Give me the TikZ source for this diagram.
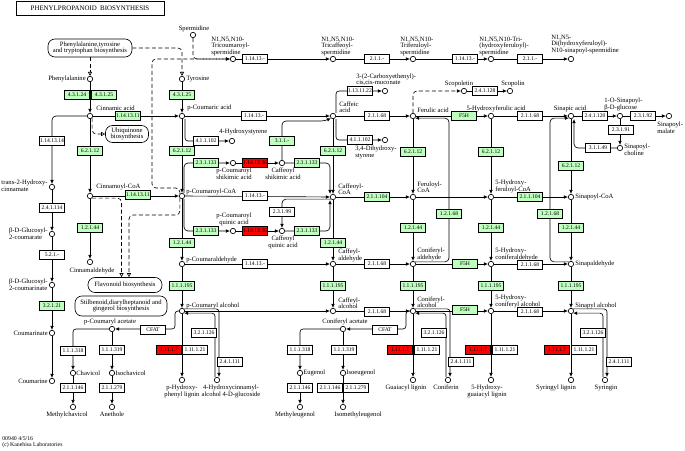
\documentclass[tikz,border=0pt]{standalone}
\usepackage{fontspec}
\setmainfont{Liberation Serif}
\usepackage{tikz}
\usetikzlibrary{arrows.meta,calc}
\definecolor{kegggreen}{RGB}{191,255,191}
\definecolor{keggred}{RGB}{255,0,0}
\newcommand\kfont{\fontsize{6.6}{6.6}\selectfont}
\newcommand\efont{\fontsize{5.6}{5.8}\selectfont}

\begin{document}
\begin{tikzpicture}[x=1pt,y=-1pt,line width=0.65pt,
  cpd/.style={circle,draw,fill=white,inner sep=0pt,minimum size=5.4pt},
  enz/.style={rectangle,draw,fill=white,inner sep=0pt,minimum width=25.5pt,minimum height=8.5pt,font=\efont},
  genz/.style={enz,fill=kegggreen},
  renz/.style={enz,fill=keggred},
  lbl/.style={inner sep=0pt,align=left,font=\kfont},
  mapbox/.style={draw,rounded corners=7pt,fill=white,align=center,inner sep=1pt,font=\kfont},
  arw/.style={-{Latex[length=4pt,width=3.6pt]}},
  oarw/.style={-{Triangle[open,length=4pt,width=4pt]}},
  dlink/.style={dash pattern=on 4pt off 2.5pt}]
\useasboundingbox (0,0) rectangle (685,450);

\node[draw,inner sep=0pt,minimum width=148pt,minimum height=14pt,font=\fontsize{6.9}{7}\selectfont] (title) at (90,8) {PHENYLPROPANOID\ \ BIOSYNTHESIS};
\node[lbl,anchor=north west,font=\fontsize{5.8}{6.2}\selectfont] (ver) at (2,436) {00940 4/5/16\\(c) Kanehisa Laboratories};

% pathway maps
\node[mapbox,minimum width=84pt,minimum height=18pt] (pttmap) at (90,48) {Phenylalanine,tyrosine\\and tryptophan biosynthesis};
\node[mapbox,minimum width=43pt,minimum height=17pt] (ubqmap) at (127,134) {Ubiquinone\\biosynthesis};
\node[mapbox,minimum width=74pt,minimum height=15pt] (flvmap) at (125,285) {Flavonoid biosynthesis};
\node[mapbox,minimum width=92pt,minimum height=20pt] (stbmap) at (121,306) {Stilbenoid,diarylheptanoid and\\gingerol biosynthesis};

% compounds
\node[cpd] (sperm) at (193,35) {};
\node[cpd] (tricou) at (233,59) {};
\node[cpd] (tricaf) at (333,59) {};
\node[cpd] (triferu) at (413,59) {};
\node[cpd] (trihf) at (491,59) {};
\node[cpd] (dihf) at (571,59) {};
\node[cpd] (phe) at (90,79) {};
\node[cpd] (tyr) at (182,79) {};
\node[cpd] (muco) at (385,91) {};
\node[cpd] (scopt) at (464,91) {};
\node[cpd] (scopn) at (510,91) {};
\node[cpd] (cinn) at (90,116) {};
\node[cpd] (pcou) at (182,116) {};
\node[cpd] (caff) at (333,116) {};
\node[cpd] (feru) at (413,116) {};
\node[cpd] (hferu) at (491,116) {};
\node[cpd] (sinap) at (571,116) {};
\node[cpd] (singlc) at (620,116) {};
\node[cpd] (sinmal) at (669,116) {};
\node[cpd] (hstyr) at (232,141) {};
\node[cpd] (dhstyr) at (385,140) {};
\node[cpd] (sinchol) at (620,148) {};
\node[cpd] (pcshik) at (233,163) {};
\node[cpd] (cfshik) at (282,163) {};
\node[cpd] (t2hc) at (52,187) {};
\node[cpd] (cincoa) at (90,196) {};
\node[cpd] (pcoa) at (182,196) {};
\node[cpd] (cfcoa) at (333,197) {};
\node[cpd] (frcoa) at (413,197) {};
\node[cpd] (hfcoa) at (491,197) {};
\node[cpd] (sncoa) at (571,197) {};
\node[cpd] (pcquin) at (233,231) {};
\node[cpd] (cfquin) at (282,231) {};
\node[cpd] (gluc2c) at (52,234) {};
\node[cpd] (cinald) at (90,262) {};
\node[cpd] (pcald) at (182,264) {};
\node[cpd] (cfald) at (333,264) {};
\node[cpd] (coald) at (413,264) {};
\node[cpd] (hcoald) at (491,264) {};
\node[cpd] (snald) at (571,264) {};
\node[cpd] (gluc2cn) at (52,285) {};
\node[cpd] (pcalc) at (182,311) {};
\node[cpd] (cfalc) at (333,311) {};
\node[cpd] (coalc) at (413,311) {};
\node[cpd] (hcoalc) at (491,311) {};
\node[cpd] (snalc) at (571,311) {};
\node[cpd] (pcac) at (112,329) {};
\node[cpd] (coac) at (343,329) {};
\node[cpd] (cmnate) at (52,333) {};
\node[cpd] (chav) at (73,373) {};
\node[cpd] (ichav) at (112,373) {};
\node[cpd] (eug) at (300,373) {};
\node[cpd] (ieug) at (343,373) {};
\node[cpd] (cmrine) at (52,381) {};
\node[cpd] (hplig) at (182,380) {};
\node[cpd] (hcgluc) at (217,380) {};
\node[cpd] (glig) at (413,380) {};
\node[cpd] (conin) at (448,380) {};
\node[cpd] (hglig) at (491,380) {};
\node[cpd] (slig) at (571,380) {};
\node[cpd] (syrin) at (605,380) {};
\node[cpd] (mchav) at (73,407) {};
\node[cpd] (aneth) at (112,407) {};
\node[cpd] (meug) at (300,407) {};
\node[cpd] (imeug) at (343,407) {};
\coordinate (fa68) at (449,0);
\coordinate (sa68) at (550,0);

% map links
\draw[dlink,oarw] (pttmap) -- (phe);
\draw[dlink,oarw,rounded corners=4pt] (pttmap.east) -| (tyr);
\draw[dlink,oarw,rounded corners=4pt] (cinn.south east) |- (ubqmap.west);
\draw[dlink,arw,rounded corners=4pt] (pcoa.north west) |- (152,188) |- (tricou);
\draw[dlink,arw,rounded corners=4pt] (sperm) |- (tricou);
\draw[dlink,oarw,rounded corners=4pt] (cincoa.south east) -| ([xshift=-3.5pt]flvmap.north);
\draw[dlink,oarw,rounded corners=4pt] (pcoa.south west) |- (129,215) -- ([xshift=4pt]flvmap.north);
\draw[dlink,arw,rounded corners=4pt] (feru.north) |- (scopt);

% reactions
\foreach \u/\v in {tricou/tricaf,tricaf/triferu,triferu/trihf,trihf/dihf,
  phe/cinn,tyr/pcou,cinn/pcou,pcou/caff,caff/feru,feru/hferu,hferu/sinap,sinap/singlc,singlc/sinmal,singlc/sinchol,
  scopt/scopn,cinn/cincoa,cincoa/cinald,pcou/pcoa,caff/cfcoa,feru/frcoa,hferu/hfcoa,sinap/sncoa,
  cincoa/pcoa,pcoa/cfcoa,cfcoa/frcoa,frcoa/hfcoa,hfcoa/sncoa,
  pcoa/pcald,cfcoa/cfald,frcoa/coald,hfcoa/hcoald,sncoa/snald,
  pcald/cfald,cfald/coald,coald/hcoald,hcoald/snald,
  pcald/pcalc,cfald/cfalc,coald/coalc,hcoald/hcoalc,snald/snalc,
  pcalc/cfalc,cfalc/coalc,coalc/hcoalc,hcoalc/snalc,
  pcalc/hplig,coalc/glig,hcoalc/hglig,snalc/slig,
  pcshik/cfshik,pcquin/cfquin,
  t2hc/gluc2c,gluc2c/gluc2cn,gluc2cn/cmnate,cmnate/cmrine,
  pcac/ichav,ichav/aneth,chav/mchav,coac/ieug,ieug/imeug,eug/meug}
  \draw[arw] (\u)--(\v);
\draw[arw,rounded corners=4pt] (cinn.west) -| (t2hc);
\draw[arw,rounded corners=3pt] ([xshift=3pt]pcou.south) |- (hstyr);
\draw[arw,rounded corners=3pt] ([xshift=3pt]caff.north) |- (muco);
\draw[arw,rounded corners=3pt] ([xshift=3pt]caff.south) |- (dhstyr);
\draw[arw,rounded corners=4pt] (cfshik.north) |- ([xshift=-8pt,yshift=-5pt]caff.center) -- (caff.south west);
\draw[arw,rounded corners=4pt] (sinchol.west) -| ([xshift=3pt]sinap.south);
\draw[arw,rounded corners=4pt] ([xshift=2pt]pcoa.north) |- (pcshik);
\draw[arw,rounded corners=4pt] (cfshik.east) -| ([xshift=-3pt]cfcoa.north);
\draw[arw,rounded corners=4pt] ([xshift=2pt]pcoa.south) |- (pcquin);
\draw[arw,rounded corners=4pt] (cfquin.east) -| ([xshift=-3pt]cfcoa.south);
\draw[arw,rounded corners=4pt] (cfcoa.south west) -| (cfquin);
\draw[arw,rounded corners=4pt] (coald.north east) -| (fa68 |- feru.south east) -- (feru.south east);
\draw[arw,rounded corners=4pt] (snald.north west) -| (sa68 |- sinap.south west) -- (sinap.south west);
\draw[arw,rounded corners=3pt] (pcalc.north east) -| ([xshift=2pt]hcgluc.north);
\draw[arw,rounded corners=3pt] ([xshift=-2pt]hcgluc.north) |- (pcalc.south east);
\draw[arw,rounded corners=3pt] (coalc.north east) -| ([xshift=2pt]conin.north);
\draw[arw,rounded corners=3pt] ([xshift=-2pt]conin.north) |- (coalc.south east);
\draw[arw,rounded corners=3pt] (snalc.north east) -| ([xshift=2pt]syrin.north);
\draw[arw,rounded corners=3pt] ([xshift=-2pt]syrin.north) |- (snalc.south east);
\draw[arw,rounded corners=3pt] (pcalc.west) -- ([xshift=-4pt]pcalc.west) |- (pcac.east);
\draw[arw,rounded corners=3pt] (coalc.west) -- ([xshift=-4pt]coalc.west) |- (coac.east);
\draw[arw,rounded corners=3pt] (pcac.west) -| (chav);
\draw[arw,rounded corners=3pt] (coac.west) -| (eug);

% enzymes
\foreach \x/\y/\t in {255/59/1.14.13.-,377/59/2.1.1.-,465/59/1.14.13.-,530/59/2.1.1.-,
  360/91/1.13.11.22,485/91/2.4.1.128,
  254/116/1.14.13.-,377/116/2.1.1.68,530/116/2.1.1.68,595/116/2.4.1.120,643/116/2.3.1.92,
  621/130/2.3.1.91,52/141/1.14.13.14,206/141/4.1.1.102,360/140/4.1.1.102,598/148/3.1.1.49,
  255/196/1.14.13.-,52/208/2.4.1.114,282/212/2.3.1.99,52/255/5.2.1.-,
  255/264/1.14.13.-,377/264/2.1.1.68,530/265/2.1.1.68,377/312/2.1.1.68,530/312/2.1.1.68,
  153/330/CFAT,385/330/CFAT,204/333/3.2.1.126,434/333/3.2.1.126,593/333/3.2.1.126,
  73/351/1.1.1.318,112/350/1.1.1.319,300/350/1.1.1.318,344/350/1.1.1.319,
  195/350/1.11.1.21,427/350/1.11.1.21,505/350/1.11.1.21,584/350/1.11.1.21,
  230/362/2.4.1.111,461/362/2.4.1.111,619/362/2.4.1.111,
  73/388/2.1.1.146,112/388/2.1.1.279,300/388/2.1.1.146,330/388/2.1.1.146,356/388/2.1.1.279}
  \node[enz] (e\x-\y) at (\x,\y) {\t};
\foreach \x/\y/\t in {77/95/4.3.1.24,104/95/4.3.1.25,182/95/4.3.1.25,
  128/116/1.14.13.11,464/116/F5H,282/141/3.1.1.-,
  90/151/6.2.1.12,182/151/6.2.1.12,333/151/6.2.1.12,413/152/6.2.1.12,491/152/6.2.1.12,571/166/6.2.1.12,
  206/163/2.3.1.133,307/163/2.3.1.133,206/231/2.3.1.133,307/231/2.3.1.133,
  138/195/1.14.13.11,377/197/2.1.1.104,530/197/2.1.1.104,449/214/1.2.1.68,550/214/1.2.1.68,
  90/228/1.2.1.44,182/243/1.2.1.44,333/243/1.2.1.44,413/228/1.2.1.44,491/228/1.2.1.44,571/228/1.2.1.44,
  465/264/F5H,465/310/F5H,
  182/286/1.1.1.195,333/286/1.1.1.195,413/286/1.1.1.195,491/286/1.1.1.195,571/286/1.1.1.195,
  52/306/3.2.1.21}
  \node[genz] (g\x-\y) at (\x,\y) {\t};
\foreach \x/\y/\t in {255/163/1.14.13.36,255/231/1.14.13.36,
  169/350/1.11.1.7,400/350/1.11.1.7,478/350/1.11.1.7,557/350/1.11.1.7}
  \node[renz] (r\x-\y) at (\x,\y) {\t};

% compound names
\node[lbl,anchor=south] (sperm-l) at (194,32) {Spermidine};
\node[lbl,anchor=south west] (tricou-l) at (211,56) {N1,N5,N10-\\Tricoumaroyl-\\spermidine};
\node[lbl,anchor=south west] (tricaf-l) at (321,56) {N1,N5,N10-\\Tricaffeoyl-\\spermidine};
\node[lbl,anchor=south west] (triferu-l) at (400,56) {N1,N5,N10-\\Triferuloyl-\\spermidine};
\node[lbl,anchor=south west] (trihf-l) at (479,56) {N1,N5,N10-Tri-\\(hydroxyferuloyl)-\\spermidine};
\node[lbl,anchor=south west] (dihf-l) at (551,54) {N1,N5-\\Di(hydroxyferuloyl)-\\N10-sinapoyl-spermidine};
\node[lbl,anchor=east] (phe-l) at (86,79) {Phenylalanine};
\node[lbl,anchor=west] (tyr-l) at (186,79) {Tyrosine};
\node[lbl,anchor=south west] (cinn-l) at (96,111) {Cinnamic acid};
\node[lbl,anchor=south west] (pcou-l) at (187,111) {p-Coumaric acid};
\node[lbl,anchor=south west] (caff-l) at (339,113) {Caffeic\\acid};
\node[lbl,anchor=south west] (feru-l) at (417,113) {Ferulic acid};
\node[lbl,anchor=south] (hferu-l) at (496,112) {5-Hydroxyferulic acid};
\node[lbl,anchor=south] (sinap-l) at (570,112) {Sinapic acid};
\node[lbl,anchor=south west] (singlc-l) at (604,111) {1-O-Sinapoyl-\\β-D-glucose};
\node[lbl,anchor=north west] (sinmal-l) at (657,122) {Sinapoyl-\\malate};
\node[lbl,anchor=west] (sinchol-l) at (624,150) {Sinapoyl-\\choline};
\node[lbl,anchor=south west] (muco-l) at (356,86) {3-(2-Carboxyethenyl)-\\cis,cis-muconate};
\node[lbl,anchor=south] (scopt-l) at (459,87) {Scopoletin};
\node[lbl,anchor=south] (scopn-l) at (513,87) {Scopolin};
\node[lbl,anchor=south west] (hstyr-l) at (219,135) {4-Hydroxystyrene};
\node[lbl,anchor=north west] (dhstyr-l) at (355,146) {3,4-Dihydroxy-\\styrene};
\node[lbl,anchor=east] (t2hc-l) at (48,186) {trans-2-Hydroxy-\\cinnamate};
\node[lbl,anchor=east] (gluc2c-l) at (48,234) {β-D-Glucosyl-\\2-coumarate};
\node[lbl,anchor=east] (gluc2cn-l) at (48,285) {β-D-Glucosyl-\\2-coumarinate};
\node[lbl,anchor=east] (cmnate-l) at (48,333) {Coumarinate};
\node[lbl,anchor=east] (cmrine-l) at (48,381) {Coumarine};
\node[lbl,anchor=south west] (cincoa-l) at (96,190) {Cinnamoyl-CoA};
\node[lbl,anchor=south west] (pcoa-l) at (186,195) {p-Coumaroyl-CoA};
\node[lbl,anchor=south west] (cfcoa-l) at (338,195) {Caffeoyl-\\CoA};
\node[lbl,anchor=south west] (frcoa-l) at (417,193) {Feruloyl-\\CoA};
\node[lbl,anchor=south west] (hfcoa-l) at (495,193) {5-Hydroxy-\\feruloyl-CoA};
\node[lbl,anchor=west] (sncoa-l) at (575,197) {Sinapoyl-CoA};
\node[lbl,anchor=north,align=center] (pcshik-l) at (234,168) {p-Coumaroyl\\shikimic acid};
\node[lbl,anchor=north,align=center] (cfshik-l) at (283,168) {Caffeoyl\\shikimic acid};
\node[lbl,anchor=south,align=center] (pcquin-l) at (234,226) {p-Coumaroyl\\quinic acid};
\node[lbl,anchor=north,align=center] (cfquin-l) at (283,236) {Caffeoyl\\quinic acid};
\node[lbl,anchor=north] (cinald-l) at (92,268) {Cinnamaldehyde};
\node[lbl,anchor=south west] (pcald-l) at (186,263) {p-Coumaraldehyde};
\node[lbl,anchor=south west] (cfald-l) at (338,262) {Caffeyl-\\aldehyde};
\node[lbl,anchor=south west] (coald-l) at (417,261) {Coniferyl-\\aldehyde};
\node[lbl,anchor=south west] (hcoald-l) at (495,261) {5-Hydroxy-\\coniferaldehyde};
\node[lbl,anchor=west] (snald-l) at (575,264) {Sinapaldehyde};
\node[lbl,anchor=south west] (pcalc-l) at (186,309) {p-Coumaryl alcohol};
\node[lbl,anchor=south west] (cfalc-l) at (338,309) {Caffeyl-\\alcohol};
\node[lbl,anchor=south west] (coalc-l) at (417,308) {Coniferyl-\\alcohol};
\node[lbl,anchor=south west] (hcoalc-l) at (495,308) {5-Hydroxy-\\coniferyl alcohol};
\node[lbl,anchor=south west] (snalc-l) at (575,309) {Sinapyl alcohol};
\node[lbl,anchor=south] (pcac-l) at (110,325) {p-Coumaryl acetate};
\node[lbl,anchor=south] (coac-l) at (345,325) {Coniferyl acetate};
\node[lbl,anchor=west] (chav-l) at (76,373) {Chavicol};
\node[lbl,anchor=west] (ichav-l) at (115,373) {Isochavicol};
\node[lbl,anchor=west] (eug-l) at (303,373) {Eugenol};
\node[lbl,anchor=west] (ieug-l) at (346,373) {Isoeugenol};
\node[lbl,anchor=north] (mchav-l) at (67,412) {Methylchavicol};
\node[lbl,anchor=north] (aneth-l) at (112,412) {Anethole};
\node[lbl,anchor=north] (meug-l) at (295,412) {Methyleugenol};
\node[lbl,anchor=north] (imeug-l) at (358,412) {Isomethyleugenol};
\node[lbl,anchor=north,align=center] (hplig-l) at (182,385) {p-Hydroxy-\\phenyl lignin};
\node[lbl,anchor=north,align=center] (hcgluc-l) at (231,385) {4-Hydroxycinnamyl-\\alcohol 4-D-glucoside};
\node[lbl,anchor=north] (glig-l) at (406,385) {Guaiacyl lignin};
\node[lbl,anchor=north] (conin-l) at (446,385) {Coniferin};
\node[lbl,anchor=north,align=center] (hglig-l) at (487,385) {5-Hydroxy-\\guaiacyl lignin};
\node[lbl,anchor=north] (slig-l) at (556,385) {Syringyl lignin};
\node[lbl,anchor=north] (syrin-l) at (606,385) {Syringin};
\end{tikzpicture}
\end{document}
